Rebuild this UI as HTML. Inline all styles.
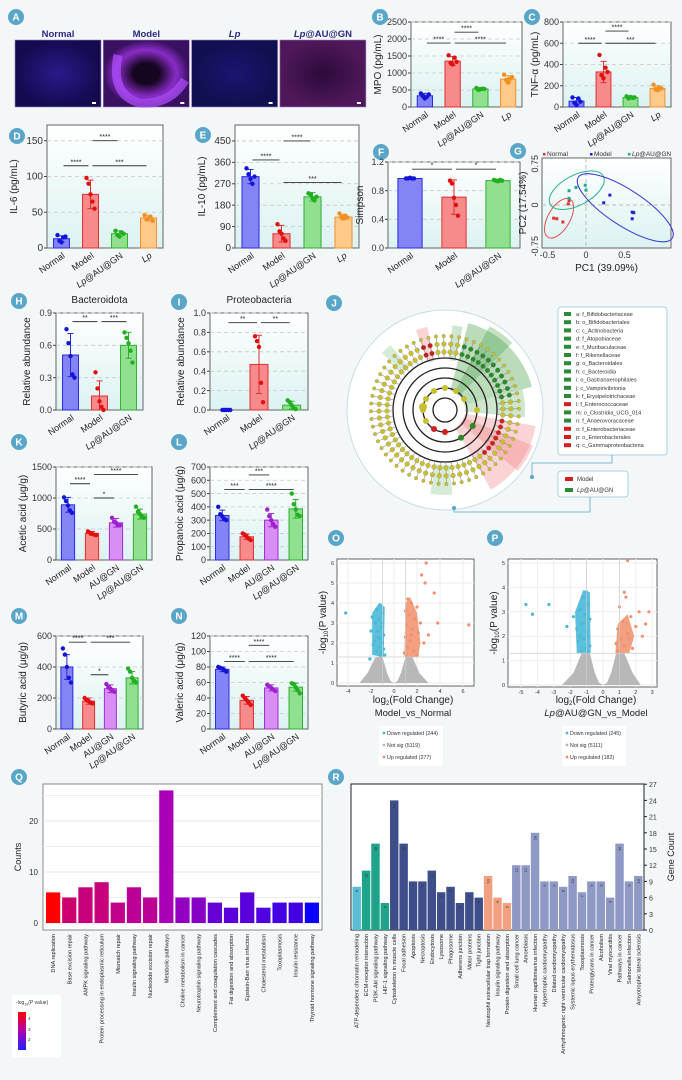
<!DOCTYPE html>
<html><head><meta charset="utf-8">
<style>
body{margin:0;background:#f3f7f7;}
svg{display:block;font-family:"Liberation Sans",sans-serif;}
</style></head>
<body>
<svg id="fig" width="682" height="1080" viewBox="0 0 682 1080" xmlns="http://www.w3.org/2000/svg">
<defs>
<linearGradient id="pbg" x1="0" y1="0" x2="0" y2="1"><stop offset="0" stop-color="#ffffff"/><stop offset="1" stop-color="#dcf2f2"/></linearGradient>
<linearGradient id="leg" x1="0" y1="0" x2="0" y2="1"><stop offset="0" stop-color="#ff0000"/><stop offset="0.5" stop-color="#b000b0"/><stop offset="1" stop-color="#2020ff"/></linearGradient>
<radialGradient id="imgN"><stop offset="0" stop-color="#2a1a8a"/><stop offset="1" stop-color="#140a50"/></radialGradient>
<radialGradient id="imgM"><stop offset="0.3" stop-color="#150520"/><stop offset="0.7" stop-color="#8a2cc8"/><stop offset="1" stop-color="#3a1060"/></radialGradient>
<radialGradient id="imgL"><stop offset="0" stop-color="#1c1470"/><stop offset="1" stop-color="#101050"/></radialGradient>
<radialGradient id="imgA"><stop offset="0" stop-color="#2a0a3a"/><stop offset="1" stop-color="#50185a"/></radialGradient>
</defs>
<rect x="0" y="0" width="682" height="1080" fill="#f3f7f7"/>
<g id="root"></g>
</svg>
<script>
// ---------- data ----------
const catsB=["Normal","Model","Lp@AU@GN","Lp"];
const meansB=[330,1350,530,820];
const sdB=[70,130,40,100];
const ptsB=[[400,320,250,300,370],[1520,1300,1250,1450,1330],[560,500,520,540,530],[950,800,720,830,880]];
const meansC=[55,330,90,175];
const sdC=[35,100,15,25];
const ptsC=[[90,40,20,80,50],[490,300,270,370,330],[100,80,95,85,90],[210,170,160,180,175]];
const meansD=[13,75,20,42];
const sdD=[4,20,4,4];
const ptsD=[[18,10,8,15,16],[98,90,75,65,55],[24,18,16,22,20],[46,40,42,44,38]];
const catsE=["Normal","Model","Lp@AU@GN","Lp"];
const meansE=[300,60,215,130];
const sdE=[30,35,18,12];
const ptsE=[[335,310,290,270,300],[100,70,60,40,30],[230,225,210,200,215],[145,130,125,135,128]];
const catsF=["Normal","Model","Lp@AU@GN"];
const meansF=[0.97,0.71,0.94];
const sdF=[0.01,0.24,0.02];
const ptsF=[[0.97,0.97,0.98,0.97,0.97],[0.94,0.9,0.7,0.6,0.45],[0.95,0.94,0.93,0.95,0.94]];
const catsH=["Normal","Model","Lp@AU@GN"];
const meansH=[0.51,0.13,0.60];
const sdH=[0.2,0.14,0.12];
const ptsH=[[0.75,0.62,0.5,0.33,0.3],[0.35,0.2,0.08,0.03,0.0],[0.72,0.67,0.62,0.55,0.44]];
const meansI=[0.0,0.47,0.05];
const sdI=[0.0,0.3,0.04];
const ptsI=[[0,0,0,0,0],[0.76,0.71,0.65,0.28,0.08],[0.1,0.08,0.05,0.02,0.01]];
const catsK=["Normal","Model","AU@GN","Lp@AU@GN"];
const meansK=[890,430,600,740];
const sdK=[120,30,70,80];
const ptsK=[[1010,950,880,800,760],[460,440,420,410,400],[680,620,600,560,560],[860,780,740,700,680]];
const meansL=[335,175,300,385];
const sdL=[40,20,50,70];
const ptsL=[[400,345,330,310,300],[200,190,175,160,150],[380,330,300,270,250],[500,420,380,340,330]];
const meansM=[400,180,260,330];
const sdM=[80,20,25,40];
const ptsM=[[520,480,400,330,300],[200,185,180,170,165],[290,270,260,250,240],[390,370,330,310,300]];
const meansN=[77,37,53,54];
const sdN=[3,5,4,5];
const ptsN=[[80,79,78,76,74],[43,40,37,34,31],[57,55,53,51,49],[59,58,54,50,46]];

const pcaNormal=[[-0.42,-0.24],[-0.38,-0.25],[-0.3,-0.31],[-0.23,0.02],[-0.22,0.08]];
const pcaModel=[[0.23,0.04],[0.31,0.18],[0.6,-0.13],[0.62,-0.14],[0.6,-0.25]];
const pcaLp=[[-0.22,0.12],[-0.22,0.26],[-0.13,0.32],[-0.01,0.36],[0,0.27]];

const volOBlue=[[-1.2,3.9],[-1.5,3.7],[-1.0,3.5],[-1.3,3.2],[-1.6,3.0],[-1.1,2.8],[-1.4,2.6],[-0.9,2.4],[-1.2,2.2],[-1.7,2.1],[-1.0,2.0],[-1.3,1.8],[-0.9,1.7],[-1.5,1.6],[-1.1,1.5],[-0.8,1.4],[-1.8,1.9],[-2.0,2.6],[-1.9,3.3],[-4.2,3.5],[-1.2,1.35],[-1.0,3.0],[-1.4,2.3],[-2.1,1.2]];
const volOOrange=[[2.8,6.0],[2.4,5.4],[2.7,5.0],[3.5,4.5],[1.2,4.2],[1.5,4.0],[2.0,3.8],[1.0,3.6],[1.3,3.4],[1.8,3.2],[2.3,3.0],[3.8,3.0],[1.1,2.9],[1.6,2.7],[2.1,2.5],[1.0,2.3],[1.4,2.1],[2.6,2.0],[1.2,1.8],[1.7,1.6],[0.9,1.5],[2.0,1.4],[1.1,1.35],[6.5,2.9],[3.0,2.4],[1.5,2.4]];
const volPBlue=[[-1.0,3.8],[-1.2,3.6],[-0.9,3.3],[-1.4,3.1],[-1.1,2.9],[-0.8,2.7],[-1.3,2.5],[-1.6,2.3],[-1.0,2.2],[-0.9,2.0],[-1.2,1.9],[-1.5,1.8],[-0.8,1.6],[-1.1,1.5],[-1.3,1.4],[-4.7,3.3],[-4.3,2.9],[-3.3,3.3],[-2.2,2.4],[-1.8,2.8],[-0.9,1.35],[-1.4,2.0]];
const volPOrange=[[1.5,5.1],[1.3,3.8],[1.4,3.6],[1.0,3.2],[2.2,3.0],[2.8,3.0],[1.7,2.8],[1.2,2.6],[2.0,2.4],[0.9,2.3],[1.5,2.1],[2.4,2.0],[1.1,1.9],[0.8,1.7],[1.3,1.6],[1.8,1.5],[0.9,1.4],[1.0,1.35],[2.6,2.5],[1.6,1.9]];
const volOGrayShape=[[-1,1.3],[-0.6,0.5],[-0.3,0.1],[0,0],[0.3,0.1],[0.6,0.5],[1,1.3],[1.6,1.3],[2.2,0.5],[3,0],[-3,0],[-2.3,0.5],[-1.6,1.3]];
const volPGrayShape=[[-0.8,1.3],[-0.5,0.5],[-0.25,0.1],[0,0],[0.25,0.1],[0.5,0.5],[0.8,1.3],[1.3,1.3],[1.8,0.5],[2.3,0],[-2.5,0],[-1.8,0.5],[-1.3,1.3]];
const volOBlueShape=[[-0.9,1.3],[-0.8,3.8],[-1.3,4.0],[-1.9,3.5],[-1.9,1.4]];
const volOOrangeShape=[[0.9,1.3],[1.0,4.0],[1.4,4.3],[2.0,3.5],[2.3,2.0],[2.1,1.3]];
const volPBlueShape=[[-0.75,1.3],[-0.8,3.8],[-1.2,3.9],[-1.7,3.0],[-1.6,1.3]];
const volPOrangeShape=[[0.75,1.3],[0.9,2.5],[1.5,2.9],[1.9,2.0],[1.6,1.3]];

const qCats=["DNA replication","Base excision repair","AMPK signaling pathway","Protein processing in endoplasmic reticulum","Mismatch repair","Insulin signaling pathway","Nucleotide excision repair","Metabolic pathways","Choline metabolism in cancer","Neurotrophin signaling pathway","Complement and coagulation cascades","Fat digestion and absorption","Epstein-Barr virus infection","Cholesterol metabolism","Toxoplasmosis","Insulin resistance","Thyroid hormone signaling pathway"];
const qCounts=[6,5,7,8,4,7,5,26,5,5,4,3,6,3,4,4,4];
const qLogP=[4.5,3.6,3.5,3.5,3.4,3.3,3.3,3.0,2.8,2.7,2.4,2.3,2.3,2.2,2.1,2.1,1.6];
const qTicks=[0,10,20];

const rCats=["ATP-dependent chromatin remodeling","ECM-receptor interaction","PI3K-Akt signaling pathway","HIF-1 signaling pathway","Cytoskeleton in muscle cells","Focal adhesion","Apoptosis","Necroptosis","Endocytosis","Lysosome","Phagosome","Adherens junction","Motor proteins","Tight junction","Neutrophil extracellular trap formation","Insulin signaling pathway","Protein digestion and absorption","Small cell lung cancer","Amoebiasis","Human papillomavirus infection","Hypertrophic cardiomyopathy","Dilated cardiomyopathy","Arrhythmogenic right ventricular cardiomyopathy","Systemic lupus erythematosus","Toxoplasmosis","Proteoglycans in cancer","Alcoholism","Viral myocarditis","Pathways in cancer","Salmonella infection","Amyotrophic lateral sclerosis"];
const rCounts=[8,11,16,5,24,16,9,9,11,7,8,5,7,6,10,6,5,12,12,18,9,9,8,10,7,9,9,6,16,9,10];
const rGroups=[0,1,1,1,2,2,2,2,2,2,2,2,2,2,3,3,3,4,4,4,4,4,4,4,4,4,4,4,4,4,4];
const rTicks=[0,3,6,9,12,15,18,21,24,27];

const lefseLabels=["a: f_Bifidobacteriaceae","b: o_Bifidobacteriales","c: c_Actinobacteria","d: f_Atopobiaceae","e: f_Muribaculaceae","f: f_Rikenellaceae","g: o_Bacteroidales","h: c_Bacteroidia","i: o_Gastranaerophilales","j: c_Vampirivibrionia","k: f_Erysipelotrichaceae","l: f_Enterococcaceae","m: o_Clostridia_UCG_014","n: f_Anaerovoracaceae","o: f_Enterobacteriaceae","p: o_Enterobacterales","q: c_Gammaproteobacteria"];
const lefseGroup=[1,1,1,1,1,1,1,1,1,1,1,0,1,1,0,0,0];

// ---------- helpers ----------
const NS="http://www.w3.org/2000/svg";
const root=document.getElementById('root');
function mk(tag,attrs,parent){const e=document.createElementNS(NS,tag);for(const k in attrs)e.setAttribute(k,attrs[k]);(parent||root).appendChild(e);return e;}
const COL={"Normal":["#8484f6","#2a2ae0","#1414d8"],"Model":["#f78a8a","#e03030","#e01010"],"Lp@AU@GN":["#90e090","#30b030","#20b020"],"Lp":["#ffc98a","#f09030","#f09020"],"AU@GN":["#d88ef2","#a030d0","#a020d0"]};

function richLabel(t,str){
  if(str.indexOf("Lp")===0){
    const a=mk('tspan',{'font-style':'italic'},t);a.textContent="Lp";
    if(str.length>2){const b=mk('tspan',{},t);b.textContent=str.slice(2);}
  } else t.textContent=str;
}

function panelLabel(x,y,letter){
  const g=mk('g',{});
  
  
  mk('circle',{cx:x,cy:y,r:8,fill:'#5aa6c8'},g);
  const t=mk('text',{x:x,y:y+3.5,'text-anchor':'middle','font-size':10,fill:'#fff','font-weight':'bold'},g);t.textContent=letter;
}

function barPanel(c){
  const g=mk('g',{});
  
  
  const H=c.yBot-c.yTop;
  const y=v=>c.yBot-v/c.ymax*H;
  const n=c.cats.length,band=(c.x1-c.x0)/n,bw=band*0.55;
  const bg=mk('rect',{x:c.x0,y:c.yTop,width:c.x1-c.x0,height:H,fill:'url(#pbg)',stroke:'#666','stroke-width':1},g);
  
  
  c.ticks.forEach(tv=>{
    const ty=y(tv);
    if(tv>0){const gl=mk('line',{x1:c.x0,x2:c.x1,y1:ty,y2:ty,stroke:'#c8c8c8','stroke-dasharray':'4,3','stroke-width':0.8},g);
      
      }
    mk('line',{x1:c.x0-3,x2:c.x0,y1:ty,y2:ty,stroke:'#444'},g);
    const t=mk('text',{x:c.x0-4,y:ty+3.2,'text-anchor':'end','font-size':c.fs||9,fill:'#333'},g);
    
    
    t.textContent=c.fmt?c.fmt(tv):tv;
  });
  const yl=mk('text',{x:0,y:0,transform:`translate(${c.x0-(c.ylOff||28)},${(c.yTop+c.yBot)/2}) rotate(-90)`,'text-anchor':'middle','font-size':c.ylfs||10,fill:'#222'},g);
  
  
  yl.textContent=c.ylabel;
  if(c.title){const tt=mk('text',{x:(c.x0+c.x1)/2,y:c.yTop-10,'text-anchor':'middle','font-size':10,fill:'#222'},g);
    
    
    tt.textContent=c.title;}
  const jit=[-4,-2,0,2,4];
  c.cats.forEach((cat,i)=>{
    const cx=c.x0+band*(i+0.5),col=COL[cat];
    const b=mk('rect',{x:cx-bw/2,y:y(c.means[i]),width:bw,height:c.yBot-y(c.means[i]),fill:col[0],stroke:col[1],'stroke-width':1},g);
    
    
    const eTop=y(c.means[i]+c.sds[i]),eBot=y(Math.max(0,c.means[i]-c.sds[i]));
    const eb=mk('path',{d:`M${cx},${eTop}V${eBot}M${cx-3},${eTop}H${cx+3}M${cx-3},${eBot}H${cx+3}`,stroke:col[1],'stroke-width':1,fill:'none'},g);
    
    
    c.pts[i].forEach((pv,k)=>{
      const p=mk('circle',{cx:cx+jit[k],cy:y(pv),r:2.2,fill:col[2]},g);
      
      
    });
    const t=mk('text',{x:0,y:0,transform:`translate(${cx+4},${c.yBot+9}) rotate(-35)`,'text-anchor':'end','font-size':c.xfs||9,fill:'#222'},g);
    
    
    richLabel(t,cat);
  });
  c.sig.forEach(s=>{
    const xa=c.x0+band*(s[0]+0.5)+2,xb=c.x0+band*(s[1]+0.5)-2,sy=y(s[2]);
    const l=mk('line',{x1:xa,x2:xb,y1:sy,y2:sy,stroke:'#333','stroke-width':0.9},g);
    
    
    const t=mk('text',{x:(xa+xb)/2,y:sy-1.5,'text-anchor':'middle','font-size':7,fill:'#222'},g);
    
    
    t.textContent=s[3];
  });
}

// ---------- panel A ----------
panelLabel(16,17,'A');
const aTitles=["Normal","Model","Lp","Lp@AU@GN"],aFill=['url(#imgN)','url(#imgM)','url(#imgL)','url(#imgA)'];
aTitles.forEach((tt,i)=>{
  const x=15+i*88.3;
  const im=mk('rect',{x:x,y:40,width:86,height:67,fill:aFill[i],stroke:'#9a80c0','stroke-width':0.6});
  
  
  const sb=mk('rect',{x:x+77,y:102,width:4,height:2,fill:'#fff'});
  
  
  const t=mk('text',{x:x+43,y:37,'text-anchor':'middle','font-size':9.5,fill:'#2a2a80','font-weight':'bold'});
  
  
  richLabel(t,tt);
});
// model image glow ring
const ring=mk('path',{d:'M118,55 Q110,95 140,103 Q170,105 185,80',stroke:'#b050ff','stroke-width':9,fill:'none',opacity:0.7});



// ---------- bar panels ----------
panelLabel(380,17,'B');
barPanel({name:'chart-mpo',x0:411,x1:522,yTop:22,yBot:107,ymax:2500,ticks:[0,500,1000,1500,2000,2500],cats:catsB,means:meansB,sds:sdB,pts:ptsB,ylabel:'MPO (pg/mL)',ylOff:30,sig:[[0,1,1880,'****'],[1,2,2200,'****'],[1,3,1880,'****']]});
panelLabel(532,17,'C');
barPanel({name:'chart-tnf',x0:563,x1:671,yTop:22,yBot:107,ymax:800,ticks:[0,200,400,600,800],cats:catsB,means:meansC,sds:sdC,pts:ptsC,ylabel:'TNF-α (pg/mL)',ylOff:25,sig:[[0,1,600,'****'],[1,2,715,'****'],[1,3,600,'***']]});
panelLabel(17,136,'D');
barPanel({name:'chart-il6',x0:47,x1:163,yTop:125,yBot:248,ymax:172,ticks:[0,50,100,150],cats:catsB,means:meansD,sds:sdD,pts:ptsD,ylabel:'IL-6 (pg/mL)',ylOff:30,fs:10,sig:[[0,1,115,'****'],[1,2,150,'****'],[1,3,115,'***']]});
panelLabel(203,135,'E');
barPanel({name:'chart-il10',x0:235,x1:359,yTop:125,yBot:248,ymax:517,ticks:[0,90,180,270,360,450],cats:catsE,means:meansE,sds:sdE,pts:ptsE,ylabel:'IL-10 (pg/mL)',ylOff:30,fs:10,sig:[[0,1,370,'****'],[1,2,450,'****'],[1,3,275,'***']]});
panelLabel(381,152,'F');
barPanel({name:'chart-simpson',x0:388,x1:520,yTop:162,yBot:248,ymax:1.2,ticks:[0,0.4,0.8,1.2],fmt:v=>v.toFixed(1),cats:catsF,means:meansF,sds:sdF,pts:ptsF,ylabel:'Simpson',ylOff:25,sig:[[0,1,1.1,'*'],[1,2,1.1,'*']]});
panelLabel(19,301,'H');
barPanel({name:'chart-bacteroidota',x0:56,x1:143,yTop:313,yBot:410,ymax:0.9,ticks:[0,0.3,0.6,0.9],fmt:v=>v.toFixed(1),cats:catsH,means:meansH,sds:sdH,pts:ptsH,ylabel:'Relative abundance',ylOff:26,title:'Bacteroidota',sig:[[0,1,0.82,'**'],[1,2,0.82,'***']]});
panelLabel(179,302,'I');
barPanel({name:'chart-proteobacteria',x0:210,x1:308,yTop:313,yBot:410,ymax:1.0,ticks:[0,0.2,0.4,0.6,0.8,1.0],fmt:v=>v.toFixed(1),cats:catsH,means:meansI,sds:sdI,pts:ptsI,ylabel:'Relative abundance',ylOff:26,title:'Proteobacteria',sig:[[0,1,0.9,'**'],[1,2,0.9,'**']]});
panelLabel(19,442,'K');
barPanel({name:'chart-acetic',x0:56,x1:152,yTop:467,yBot:560,ymax:1500,ticks:[0,500,1000,1500],cats:catsK,means:meansK,sds:sdK,pts:ptsK,ylabel:'Acetic acid (μg/g)',ylOff:30,sig:[[0,1,1230,'****'],[1,2,1000,'*'],[1,3,1380,'****']]});
panelLabel(179,442,'L');
barPanel({name:'chart-propanoic',x0:210,x1:308,yTop:467,yBot:560,ymax:700,ticks:[0,100,200,300,400,500,600,700],cats:catsK,means:meansL,sds:sdL,pts:ptsL,ylabel:'Propanoic acid (μg/g)',ylOff:27,sig:[[0,1,530,'***'],[1,2,640,'***'],[1,3,530,'****']]});
panelLabel(19,616,'M');
barPanel({name:'chart-butyric',x0:56,x1:143,yTop:636,yBot:729,ymax:600,ticks:[0,200,400,600],cats:catsK,means:meansM,sds:sdM,pts:ptsM,ylabel:'Butyric acid (μg/g)',ylOff:30,sig:[[0,1,560,'****'],[1,2,350,'*'],[1,3,560,'***']]});
panelLabel(179,616,'N');
barPanel({name:'chart-valeric',x0:210,x1:308,yTop:636,yBot:729,ymax:120,ticks:[0,20,40,60,80,100,120],cats:catsK,means:meansN,sds:sdN,pts:ptsN,ylabel:'Valeric acid (μg/g)',ylOff:27,sig:[[0,1,87,'****'],[1,2,108,'****'],[1,3,87,'****']]});

// ---------- panel G: PCA ----------
panelLabel(518,151,'G');
(function(){
  const g=mk('g',{});
  
  
  const x0=542,x1=671,y0=158,y1=248;
  const px=v=>586+v*77,py=v=>205-v*55;
  const bx=mk('rect',{x:x0,y:y0,width:x1-x0,height:y1-y0,fill:'url(#pbg)',stroke:'#666'},g);
  
  
  mk('line',{x1:px(0),x2:px(0),y1:y0,y2:y1,stroke:'#bbb','stroke-dasharray':'4,3'},g);
  mk('line',{x1:x0,x2:x1,y1:py(0),y2:py(0),stroke:'#bbb','stroke-dasharray':'4,3'},g);
  [-0.5,0,0.5].forEach(v=>{const t=mk('text',{x:px(v),y:y1+10,'text-anchor':'middle','font-size':9,fill:'#333'},g);
    
    
    t.textContent=v;});
  [-0.75,0,0.75].forEach(v=>{const t=mk('text',{x:0,y:0,transform:`translate(${x0-4},${py(v)}) rotate(-90)`,'text-anchor':'middle','font-size':9,fill:'#333'},g);
    
    
    t.textContent=v;});
  const xt=mk('text',{x:(x0+x1)/2,y:y1+23,'text-anchor':'middle','font-size':10,fill:'#222'},g);
  
  
  xt.textContent='PC1 (39.09%)';
  const yt=mk('text',{x:0,y:0,transform:`translate(${x0-16},${(y0+y1)/2}) rotate(-90)`,'text-anchor':'middle','font-size':10,fill:'#222'},g);
  
  
  yt.textContent='PC2 (17.54%)';
  const ell=[[-0.35,-0.24,22,11,-60,'#e05050'],[-0.12,0.27,30,15,-28,'#30b090'],[0.51,-0.05,56,18,33,'#3a3ad0']];
  ell.forEach(e=>{const el=mk('ellipse',{cx:px(e[0]),cy:py(e[1]),rx:e[2],ry:e[3],transform:`rotate(${e[4]} ${px(e[0])} ${py(e[1])})`,fill:'none',stroke:e[5],'stroke-width':1},g);
    
    });
  [[pcaNormal,'#e03030'],[pcaModel,'#2020d0'],[pcaLp,'#20a890']].forEach(s=>s[0].forEach(p=>{
    const d=mk('rect',{x:px(p[0])-1.5,y:py(p[1])-1.5,width:3,height:3,fill:s[1]},g);
    
    }));
  [['Normal',543,'#e03030'],['Model',590,'#2020d0'],['Lp@AU@GN',628,'#20a890']].forEach(l=>{
    mk('rect',{x:l[1],y:153,width:2.5,height:2.5,fill:l[2]},g);
    const t=mk('text',{x:l[1]+4,y:156,'font-size':6.5,fill:'#333'},g);
    
    
    richLabel(t,l[0]);});
})();

// ---------- panel J: LEfSe cladogram ----------
panelLabel(334,303,'J');
(function(){
  const g=mk('g',{});
  
  
  const cx=445,cy=410;
  const c0=mk('ellipse',{cx:cx,cy:cy,rx:98,ry:100,fill:'#fff',stroke:'#c8dde8','stroke-width':1},g);
  
  
  const wedge=(a0,a1,r0,r1,col,op)=>{const r=a=>(a-90)*Math.PI/180;
    const p=`M${cx+r0*Math.cos(r(a0))},${cy+r0*Math.sin(r(a0))}L${cx+r1*Math.cos(r(a0))},${cy+r1*Math.sin(r(a0))}A${r1},${r1} 0 0 1 ${cx+r1*Math.cos(r(a1))},${cy+r1*Math.sin(r(a1))}L${cx+r0*Math.cos(r(a1))},${cy+r0*Math.sin(r(a1))}A${r0},${r0} 0 0 0 ${cx+r0*Math.cos(r(a0))},${cy+r0*Math.sin(r(a0))}Z`;
    const w=mk('path',{d:p,fill:col,opacity:op},g);
    
    };
  wedge(15,75,20,90,'#3a9a3a',0.35);wedge(28,45,20,95,'#3a9a3a',0.3);wedge(75,95,20,80,'#3a9a3a',0.25);
  wedge(100,150,20,92,'#f07070',0.3);wedge(112,130,20,95,'#f07070',0.3);
  wedge(-20,-12,50,85,'#f07070',0.3);wedge(5,12,50,85,'#3a9a3a',0.25);wedge(-48,-40,55,85,'#3a9a3a',0.2);wedge(175,190,55,85,'#3a9a3a',0.2);
  [12,22,32,42,52].forEach(r=>{mk('circle',{cx:cx,cy:cy,r:r,fill:'none',stroke:'#222','stroke-width':1.3},g);});
  const rings=[58,66,74];
  for(let a=-175;a<180;a+=6){
    const rad=(a-90)*Math.PI/180;
    mk('line',{x1:cx+52*Math.cos(rad),y1:cy+52*Math.sin(rad),x2:cx+76*Math.cos(rad),y2:cy+76*Math.sin(rad),stroke:'#777','stroke-width':0.5},g);
    rings.forEach((r,k)=>{
      let col='#c8c030';
      if(a>15&&a<80&&k<2)col='#2a8a2a';
      if(a>100&&a<140&&k===0)col='#d02020';
      if((a===-19||a===-13)&&k<2)col='#c02020';
      const d=mk('circle',{cx:cx+r*Math.cos(rad),cy:cy+r*Math.sin(rad),r:k===2?1.8:2.4,fill:col,stroke:'#888','stroke-width':0.3},g);
      
      
    });
  }
  for(let a=0;a<360;a+=30){const rad=a*Math.PI/180;
    const d=mk('circle',{cx:cx+(a<90?32:22)*Math.cos(rad),cy:cy+(a<90?32:22)*Math.sin(rad),r:3,fill:(a>0&&a<90)?'#2a8a2a':(a>=90&&a<150?'#d02020':'#c8c030')},g);
    
    }
  mk('circle',{cx:cx-22,cy:cy-3,r:4,fill:'#c8c030'},g);
  // legend
  const lb=mk('rect',{x:558,y:307,width:109,height:148,rx:3,fill:'#fff',stroke:'#a8d0e0'});
  
  
  lefseLabels.forEach((s,i)=>{
    const yy=316+i*8.2;
    mk('rect',{x:564,y:yy-4,width:7,height:4,fill:lefseGroup[i]?'#2a8a3a':'#d02020'});
    const t=mk('text',{x:576,y:yy,'font-size':5.6,fill:'#333'});
    
    
    t.textContent=s;
  });
  const lb2=mk('rect',{x:558,y:471,width:70,height:26,rx:3,fill:'#fff',stroke:'#a8d0e0'});
  
  
  mk('rect',{x:565,y:477,width:8,height:4,fill:'#d02020'});
  mk('rect',{x:565,y:488,width:8,height:4,fill:'#2a8a3a'});
  const t1=mk('text',{x:577,y:481,'font-size':6,fill:'#333'});t1.textContent='Model';
  
  
  const t2=mk('text',{x:577,y:492,'font-size':6,fill:'#333'});richLabel(t2,'Lp@AU@GN');
  
  
  mk('path',{d:'M612,455V463H532V477',fill:'none',stroke:'#5aa6c8','stroke-width':0.8});
  mk('circle',{cx:532,cy:477,r:2,fill:'#5aa6c8'});
  mk('path',{d:'M590,497V512H454V508',fill:'none',stroke:'#5aa6c8','stroke-width':0.8});
  mk('circle',{cx:454,cy:508,r:2,fill:'#5aa6c8'});
})();

// ---------- volcano plots ----------
function volcano(c){
  const g=mk('g',{});
  
  
  const px=v=>c.zx+v*c.sx,py=v=>c.zy-v*c.sy;
  const bx=mk('rect',{x:c.x0,y:c.y0,width:c.x1-c.x0,height:c.y1-c.y0,fill:'#fff',stroke:'#666'},g);
  
  
  c.xt.forEach(v=>{mk('line',{x1:px(v),x2:px(v),y1:c.y0,y2:c.y1,stroke:'#eee'},g);
    const t=mk('text',{x:px(v),y:c.y1+7,'text-anchor':'middle','font-size':5.5,fill:'#333'},g);
    
    
    t.textContent=v;});
  c.yt.forEach(v=>{mk('line',{x1:c.x0,x2:c.x1,y1:py(v),y2:py(v),stroke:'#eee'},g);
    const t=mk('text',{x:c.x0-3,y:py(v)+2,'text-anchor':'end','font-size':5.5,fill:'#333'},g);
    
    
    t.textContent=v;});
  const poly=(arr,col,nm)=>{const p=mk('polygon',{points:arr.map(q=>px(q[0])+','+py(q[1])).join(' '),fill:col},g);
    
    };
  poly(c.gray,'#b8b8b8','not-sig-cloud');
  poly(c.blueShape,'#5cc0dc','down-regulated-cloud');
  poly(c.orangeShape,'#f2a080','up-regulated-cloud');
  c.blue.forEach(p=>{const d=mk('circle',{cx:px(p[0]),cy:py(p[1]),r:1.6,fill:'#4ab8d8'},g);
    
    });
  c.orange.forEach(p=>{const d=mk('circle',{cx:px(p[0]),cy:py(p[1]),r:1.6,fill:'#f09070'},g);
    
    });
  mk('line',{x1:c.x0,x2:c.x1,y1:py(1.3),y2:py(1.3),stroke:'#ccc','stroke-width':0.7},g);
  [-1,1].forEach(v=>mk('line',{x1:px(v),x2:px(v),y1:c.y0,y2:c.y1,stroke:'#ccc','stroke-width':0.7},g));
  const yl=mk('text',{x:0,y:0,transform:`translate(${c.x0-11},${(c.y0+c.y1)/2}) rotate(-90)`,'text-anchor':'middle','font-size':10,fill:'#222'},g);
  
  
  yl.innerHTML='-log<tspan font-size="6" dy="2">10</tspan><tspan dy="-2">(P value)</tspan>';
  const xl=mk('text',{x:c.lx,y:703,'text-anchor':'middle','font-size':10,fill:'#222'},g);
  
  
  xl.innerHTML='log<tspan font-size="6" dy="2">2</tspan><tspan dy="-2">(Fold Change)</tspan>';
  const sub=mk('text',{x:c.lx,y:716,'text-anchor':'middle','font-size':9.5,fill:'#222'},g);
  
  
  richLabel(sub,c.sub);
  const lb=mk('rect',{x:c.lx-34,y:726,width:64,height:40,rx:2,fill:'#fff'},g);
  
  
  c.leg.forEach((s,i)=>{mk('circle',{cx:c.lx-29,cy:733+i*12,r:1.4,fill:['#4ab8d8','#b8b8b8','#f09070'][i]},g);
    const t=mk('text',{x:c.lx-26,y:735+i*12,'font-size':5.3,fill:'#333'},g);
    
    
    t.textContent=s;});
}
panelLabel(336,538,'O');
volcano({name:'volcano-model-vs-normal',x0:337,x1:474,y0:559,y1:686,zx:394,sx:11.5,zy:683,sy:20,xt:[-4,-2,0,2,4,6],yt:[0,1,2,3,4,5,6],gray:volOGrayShape,blueShape:volOBlueShape,orangeShape:volOOrangeShape,blue:volOBlue,orange:volOOrange,lx:413,sub:'Model_vs_Normal',leg:['Down regulated (244)','Not sig (5119)','Up regulated (277)']});
panelLabel(495,538,'P');
volcano({name:'volcano-lp-vs-model',x0:508,x1:657,y0:559,y1:687,zx:603,sx:16.4,zy:685,sy:24.4,xt:[-5,-4,-3,-2,-1,0,1,2,3],yt:[0,1,2,3,4,5],gray:volPGrayShape,blueShape:volPBlueShape,orangeShape:volPOrangeShape,blue:volPBlue,orange:volPOrange,lx:596,sub:'Lp@AU@GN_vs_Model',leg:['Down regulated (245)','Not sig (5111)','Up regulated (182)']});

// ---------- panel Q ----------
panelLabel(19,777,'Q');
(function(){
  const g=mk('g',{});
  
  
  const x0=43,x1=322,y0=784,y1=930,zy=923,s=5.1;
  const y=v=>zy-v*s;
  const bx=mk('rect',{x:x0,y:y0,width:x1-x0,height:y1-y0,fill:'#fff',stroke:'#888'},g);
  
  
  const n=qCats.length,band=(x1-x0-4)/n;
  for(let v=5;v<28;v+=5)mk('line',{x1:x0,x2:x1,y1:y(v),y2:y(v),stroke:'#eee'},g);
  qTicks.forEach(v=>{mk('line',{x1:x0,x2:x1,y1:y(v),y2:y(v),stroke:'#e4e4e4'},g);
    const t=mk('text',{x:x0-5,y:y(v)+3,'text-anchor':'end','font-size':8,fill:'#333'},g);
    
    
    t.textContent=v;});
  const lerp=(a,b,t)=>Math.round(a+(b-a)*t);
  const colorOf=v=>{const t=Math.max(0,Math.min(1,(v-1.6)/(4.5-1.6)));
    if(t<0.5){const u=t/0.5;return `rgb(${lerp(10,175,u)},0,${lerp(255,180,u)})`;}
    const u=(t-0.5)/0.5;return `rgb(${lerp(175,255,u)},0,${lerp(180,0,u)})`;};
  qCats.forEach((c,i)=>{
    const cx=x0+2+band*(i+0.5);
    const b=mk('rect',{x:cx-band*0.44,y:y(qCounts[i]),width:band*0.88,height:zy-y(qCounts[i]),fill:colorOf(qLogP[i])},g);
    
    
    const t=mk('text',{x:0,y:0,transform:`translate(${cx+2},${y1+4}) rotate(-90)`,'text-anchor':'end','font-size':5.6,fill:'#222'},g);
    
    
    t.textContent=c;
  });
  const yl=mk('text',{x:0,y:0,transform:`translate(${x0-22},${(y0+y1)/2}) rotate(-90)`,'text-anchor':'middle','font-size':9,fill:'#222'},g);
  
  
  yl.textContent='Counts';
  const lb=mk('rect',{x:12,y:995,width:49,height:62,fill:'#fff'},g);
  
  
  const lt=mk('text',{x:16,y:1004,'font-size':5,fill:'#333'},g);
  lt.innerHTML='-log<tspan font-size="3.5" dy="1.5">10</tspan><tspan dy="-1.5">(P value)</tspan>';
  mk('rect',{x:18,y:1012,width:8,height:38,fill:'url(#leg)'},g);
  [['4',1020],['3',1031],['2',1041]].forEach(a=>{const t=mk('text',{x:28,y:a[1],'font-size':4.5,fill:'#333'},g);t.textContent=a[0];});
})();

// ---------- panel R ----------
panelLabel(336,777,'R');
(function(){
  const g=mk('g',{});
  
  
  const x0=351,x1=644,y0=784,zy=930,s=5.4;
  const y=v=>zy-v*s;
  const gc=['#5bbcd6','#1fa38a','#3d4e8a','#f2a080','#8f99c6'];
  const bx=mk('rect',{x:x0,y:y0,width:x1-x0,height:zy-y0,fill:'#fff',stroke:'#222'},g);
  
  
  rTicks.forEach(v=>{mk('line',{x1:x1,x2:x1+3,y1:y(v),y2:y(v),stroke:'#222'},g);
    const t=mk('text',{x:x1+5,y:y(v)+3,'font-size':7,fill:'#333'},g);
    
    
    t.textContent=v;});
  const n=rCats.length,band=(x1-x0-2)/n;
  rCats.forEach((c,i)=>{
    const cx=x0+1+band*(i+0.5);
    const b=mk('rect',{x:cx-band*0.45,y:y(rCounts[i]),width:band*0.9,height:zy-y(rCounts[i]),fill:gc[rGroups[i]]},g);
    
    
    const v=mk('text',{x:0,y:0,transform:`translate(${cx+1.5},${y(rCounts[i])+3}) rotate(-90)`,'text-anchor':'end','font-size':4,fill:'#333'},g);
    
    
    v.textContent=rCounts[i];
    const t=mk('text',{x:0,y:0,transform:`translate(${cx+2},${zy+4}) rotate(-90)`,'text-anchor':'end','font-size':5.6,fill:'#222'},g);
    
    
    t.textContent=c;
  });
  const yl=mk('text',{x:0,y:0,transform:`translate(674,857) rotate(-90)`,'text-anchor':'middle','font-size':9,fill:'#222'},g);
  
  
  yl.textContent='Gene Count';
})();
</script>
</body></html>
